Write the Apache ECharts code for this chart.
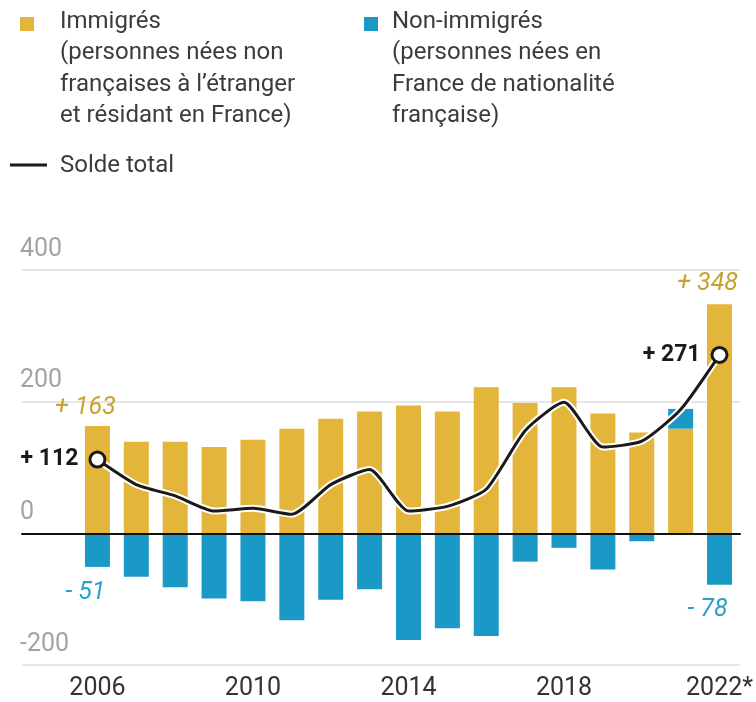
<!DOCTYPE html>
<html>
<head>
<meta charset="utf-8">
<script src="https://cdn.jsdelivr.net/npm/echarts@6/dist/echarts.min.js"></script>
<style>
html,body{margin:0;padding:0;background:#fff;}
#chart{width:756px;height:702px;}
</style>
</head>
<body>
<div id="chart"></div>
<script>
// ---- data ----
const years = ['2006','2007','2008','2009','2010','2011','2012','2013','2014','2015','2016','2017','2018','2019','2020','2021','2022'];
const xTickLabels = ['2006','2010','2014','2018','2022*'];
const yTickValues = [-200, 0, 200, 400];
const immigres = [163, 139, 139, 131, 142, 159, 174, 185, 194, 185, 222, 198, 222, 182, 153, 159, 348];
const nonImmigres = [-51, -66, -82, -99, -103, -132, -101, -85, -162, -144, -156, -43, -22, -55, -12, 30, -78];
const soldeTotal = [112, 74, 57, 34, 38, 29, 74, 97, 34, 41, 67, 156, 199, 131, 140, 188, 271];
const legendImmigres = ['Immigrés', '(personnes nées non', 'françaises à l\u2019étranger', 'et résidant en France)'];
const legendNonImmigres = ['Non-immigrés', '(personnes nées en', 'France de nationalité', 'française)'];
const legendSolde = 'Solde total';

const FONT = 'Roboto, "Noto Sans", sans-serif';
const YELLOW = '#E3B53B';
const BLUE = '#1B99C6';
const last = years.length - 1;

function fmt(v) { return v >= 0 ? '+ ' + v : '- ' + Math.abs(v); }

const labelEnds = (arr, pos, color, dist, extra) => arr.map((v, i) => {
  if (i !== 0 && i !== last) return v;
  return {
    value: v,
    label: Object.assign({
      show: true, position: pos, formatter: fmt(v),
      color: color, fontStyle: 'italic', fontSize: 25, fontFamily: FONT,
      offset: [-12, 0], distance: dist
    }, extra && i === last ? extra : {})
  };
});

const legendText = { font: '24px ' + FONT, fill: '#3c3c3c', lineHeight: 31.5 };

const chart = echarts.init(document.getElementById('chart'));
chart.setOption({
  animation: false,
  backgroundColor: '#fff',
  textStyle: { fontFamily: FONT },
  graphic: [
    { type: 'rect', shape: { x: 20, y: 17, width: 14, height: 14 }, style: { fill: YELLOW } },
    { type: 'text', left: 60, top: 6, style: Object.assign({ text: legendImmigres.join('\n') }, legendText) },
    { type: 'rect', shape: { x: 364, y: 17, width: 14, height: 14 }, style: { fill: BLUE } },
    { type: 'text', left: 392, top: 6, style: Object.assign({ text: legendNonImmigres.join('\n') }, legendText) },
    { type: 'line', shape: { x1: 10, y1: 165, x2: 47, y2: 165 }, style: { stroke: '#1a1a1a', lineWidth: 3 } },
    { type: 'text', left: 60, top: 150, style: Object.assign({ text: legendSolde }, legendText) }
  ],
  grid: [
    { left: 22, right: 16, top: 270, bottom: 37 },
    { left: 78, right: 17, top: 270, bottom: 37 }
  ],
  xAxis: [
    { gridIndex: 0, type: 'category', data: years, z: 10,
      axisLine: { show: true, onZero: true, lineStyle: { color: '#111', width: 2 } },
      axisTick: { show: false }, axisLabel: { show: false }, splitLine: { show: false } },
    { gridIndex: 1, type: 'category', data: years,
      axisLine: { show: false }, axisTick: { show: false },
      axisLabel: { interval: 0, margin: 11, fontSize: 25, color: '#333', fontFamily: FONT,
        formatter: (v, i) => (i % 4 === 0 ? xTickLabels[i / 4] : '') } }
  ],
  yAxis: [
    { gridIndex: 0, type: 'value', min: yTickValues[0], max: yTickValues[yTickValues.length - 1], interval: 200,
      axisLine: { show: false }, axisTick: { show: false },
      splitLine: { lineStyle: { color: '#dedede', width: 1.5 } },
      axisLabel: { inside: true, margin: -2, align: 'left', verticalAlign: 'bottom', lineHeight: 41,
        fontSize: 25, color: '#a3a3a3', fontFamily: FONT } },
    { gridIndex: 1, type: 'value', min: yTickValues[0], max: yTickValues[yTickValues.length - 1], interval: 200,
      show: false, splitLine: { show: false } }
  ],
  series: [
    { name: 'Immigrés', type: 'bar', xAxisIndex: 1, yAxisIndex: 1, stack: 'total', barWidth: 25,
      itemStyle: { color: YELLOW },
      data: labelEnds(immigres, 'top', '#C9A22B', 6, { backgroundColor: '#fff', padding: [0, 4, 0, 4], distance: 8 }) },
    { name: 'Non-immigrés', type: 'bar', xAxisIndex: 1, yAxisIndex: 1, stack: 'total', barWidth: 25,
      itemStyle: { color: BLUE },
      data: labelEnds(nonImmigres, 'bottom', '#2AA0CB', 13) },
    { name: 'halo', type: 'line', xAxisIndex: 1, yAxisIndex: 1, data: soldeTotal, smooth: 0.2,
      symbol: 'none', silent: true, z: 3, lineStyle: { color: '#fff', width: 7 } },
    { name: 'Solde total', type: 'line', xAxisIndex: 1, yAxisIndex: 1, smooth: 0.2, z: 4,
      symbol: 'circle', symbolSize: 0, showAllSymbol: true,
      lineStyle: { color: '#1a1a1a', width: 3 },
      itemStyle: { color: '#fff', borderColor: '#1a1a1a', borderWidth: 3 },
      data: soldeTotal.map((v, i) => (i === 0 || i === last) ? {
        value: v, symbolSize: 15,
        label: { show: true, position: 'left', distance: 10, formatter: fmt(v),
          fontSize: 23, fontWeight: 'bold', color: '#1a1a1a', fontFamily: FONT }
      } : v) }
  ]
});
</script>
</body>
</html>
